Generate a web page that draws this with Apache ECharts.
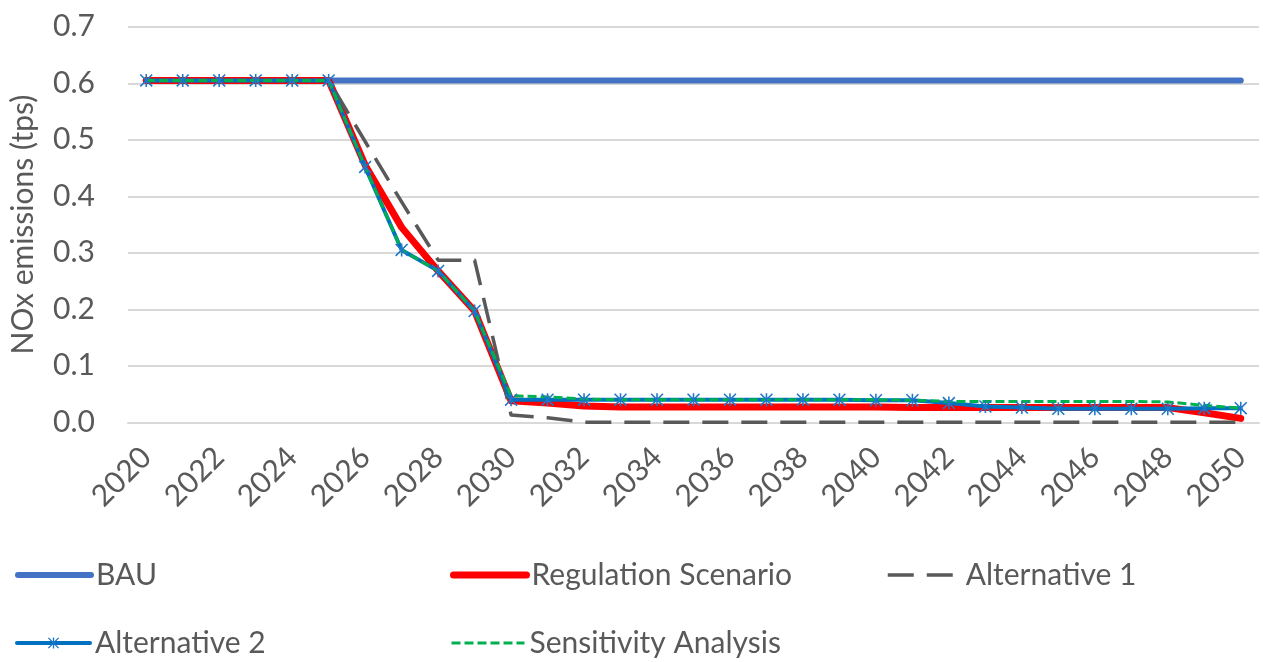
<!DOCTYPE html>
<html>
<head>
<meta charset="utf-8">
<script src="https://cdn.jsdelivr.net/npm/echarts@6/dist/echarts.min.js"></script>
<style>
  html, body { margin: 0; padding: 0; background: #ffffff; }
  #chart { width: 1263px; height: 662px; }
</style>
</head>
<body>
<div id="chart"></div>
<script>
// ---- data ----
const years = ['2020','2021','2022','2023','2024','2025','2026','2027','2028','2029',
  '2030','2031','2032','2033','2034','2035','2036','2037','2038','2039',
  '2040','2041','2042','2043','2044','2045','2046','2047','2048','2049','2050'];

const bau = [0.605,0.605,0.605,0.605,0.605,0.605,0.605,0.605,0.605,0.605,
  0.605,0.605,0.605,0.605,0.605,0.605,0.605,0.605,0.605,0.605,
  0.605,0.605,0.605,0.605,0.605,0.605,0.605,0.605,0.605,0.605,0.605];

const regulation = [0.605,0.605,0.605,0.605,0.605,0.605,0.455,0.345,0.268,0.197,
  0.038,0.034,0.029,0.027,0.027,0.027,0.027,0.027,0.027,0.027,
  0.027,0.026,0.026,0.026,0.026,0.026,0.026,0.026,0.026,0.017,0.007];

const alternative1 = [0.605,0.605,0.605,0.605,0.605,0.605,0.497,0.390,0.287,0.287,
  0.013,0.008,0.000,0.000,0.000,0.000,0.000,0.000,0.000,0.000,
  0.000,0.000,0.000,0.000,0.000,0.000,0.000,0.000,0.000,0.000,0.000];

const alternative2 = [0.605,0.605,0.605,0.605,0.605,0.605,0.452,0.305,0.268,0.197,
  0.040,0.040,0.040,0.040,0.040,0.040,0.040,0.040,0.040,0.040,
  0.039,0.039,0.034,0.028,0.026,0.024,0.024,0.024,0.024,0.025,0.025];

const sensitivity = [0.605,0.605,0.605,0.605,0.605,0.605,0.452,0.305,0.268,0.197,
  0.047,0.045,0.041,0.040,0.040,0.040,0.040,0.040,0.040,0.040,
  0.040,0.039,0.037,0.037,0.037,0.037,0.037,0.037,0.036,0.030,0.025];

const yTicks = ['0.0','0.1','0.2','0.3','0.4','0.5','0.6','0.7'];
const seriesNames = ['BAU','Regulation Scenario','Alternative 1','Alternative 2','Sensitivity Analysis'];

// ---- styles ----
const FONT = 'Lato';
const FW = 'normal';
const TXT = '#595959';
const FS = 30;
const asterisk = 'path://M8.8,0 L11.2,0 L11.2,20 L8.8,20 Z M0,1.7 L1.7,0 L20,18.3 L18.3,20 Z M18.3,0 L20,1.7 L1.7,20 L0,18.3 Z';

const legendBase = {
  orient: 'horizontal',
  itemWidth: 73,
  itemHeight: 14,
  itemGap: 0,
  lineStyle: { width: 'inherit' },
  textStyle: { fontFamily: FONT, fontWeight: FW, fontSize: FS, color: TXT },
  padding: 0
};
const hideSym = { opacity: 0 };

const chart = echarts.init(document.getElementById('chart'), null, { renderer: 'canvas' });
chart.setOption({
  backgroundColor: '#ffffff',
  animation: false,
  grid: { left: 125, right: 4, top: 26.8, bottom: 239.7, containLabel: false },
  legend: [
    Object.assign({}, legendBase, { data: [{ name: seriesNames[0], itemStyle: hideSym }], left: 15, top: 560 }),
    Object.assign({}, legendBase, { data: [{ name: seriesNames[1], itemStyle: hideSym }], left: 450, top: 560 }),
    Object.assign({}, legendBase, { data: [{ name: seriesNames[2], itemStyle: hideSym }], left: 886, top: 560 }),
    Object.assign({}, legendBase, { data: [{ name: seriesNames[3] }], left: 15, top: 628 }),
    Object.assign({}, legendBase, { data: [{ name: seriesNames[4], itemStyle: hideSym }], left: 450, top: 628 })
  ],
  xAxis: {
    type: 'category',
    data: years,
    boundaryGap: true,
    axisLine: { show: true, lineStyle: { color: '#D9D9D9', width: 2 } },
    axisTick: { show: false },
    axisLabel: {
      interval: 1,
      rotate: 45,
      margin: 30,
      fontFamily: FONT, fontWeight: FW, fontSize: FS, color: TXT
    }
  },
  yAxis: {
    type: 'value',
    min: 0, max: 0.7, interval: 0.1,
    name: 'NOx emissions (tps)',
    nameLocation: 'middle',
    nameGap: 90,
    nameRotate: 90,
    nameTextStyle: { fontFamily: FONT, fontWeight: FW, fontSize: FS, color: TXT },
    axisLine: { show: false },
    axisTick: { show: false },
    axisLabel: {
      margin: 33,
      fontFamily: FONT, fontWeight: FW, fontSize: FS, color: TXT,
      formatter: function (v) { return yTicks[Math.round(v * 10)]; }
    },
    splitLine: { lineStyle: { color: '#D9D9D9', width: 2 } }
  },
  series: [
    {
      name: seriesNames[0], type: 'line', data: bau, symbol: 'none',
      color: '#4472C4',
      lineStyle: { color: '#4472C4', width: 6, cap: 'round', join: 'round' }
    },
    {
      name: seriesNames[1], type: 'line', data: regulation, symbol: 'none',
      color: '#FF0000',
      lineStyle: { color: '#FF0000', width: 7, cap: 'round', join: 'round' }
    },
    {
      name: seriesNames[2], type: 'line', data: alternative1, symbol: 'none',
      color: '#595959',
      lineStyle: { color: '#595959', width: 3.5, type: [26, 13], cap: 'butt', join: 'round' }
    },
    {
      name: seriesNames[3], type: 'line', data: alternative2,
      symbol: asterisk, symbolSize: 13, showSymbol: true,
      color: '#0070C0',
      itemStyle: { color: '#1F77C8' },
      lineStyle: { color: '#0070C0', width: 4, cap: 'round', join: 'round' }
    },
    {
      name: seriesNames[4], type: 'line', data: sensitivity, symbol: 'none',
      color: '#00B050',
      lineStyle: { color: '#00B050', width: 3, type: [9, 4], cap: 'butt', join: 'round' }
    }
  ]
});
</script>
</body>
</html>
